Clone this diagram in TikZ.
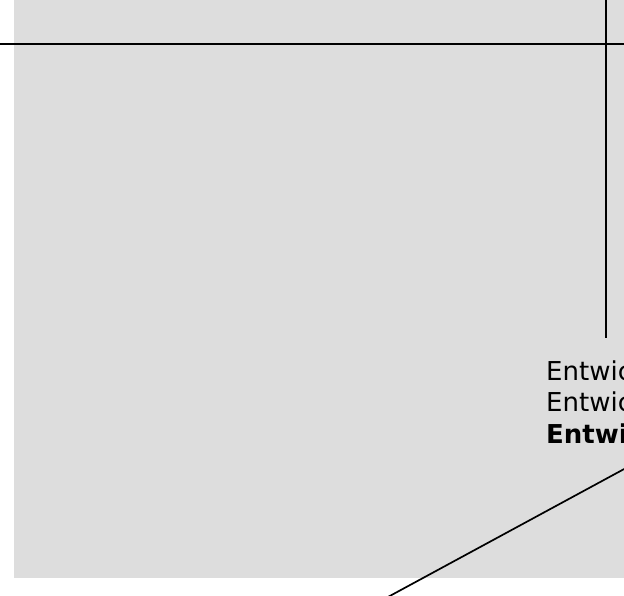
\documentclass[tikz,border=0pt]{standalone}
\usepackage{fontspec}
\setmainfont{DejaVu Sans}
\usepackage{tikz}
\usetikzlibrary{positioning}
\definecolor{panelgray}{RGB}{221,221,221}
\tikzstyle{every node}+=[inner sep=0pt]
\tikzstyle{caption} = [anchor=base west, align=left, font=\fontsize{26}{31.5}\selectfont]
\tikzstyle{line} = [draw, line width=2pt]
\tikzstyle{slant} = [draw, line width=1.7pt]

\begin{document}
\begin{tikzpicture}[x=1pt, y=-1pt]
            \useasboundingbox (0,0) rectangle (624,595);
            \clip (0,0) rectangle (624,595);
            \fill [panelgray] (14,0) rectangle (624,578);
            % Place nodes
            \node [caption] (txt) at (546,443) {Entwic\\Entwic\\\textbf{Entwi}};
            \coordinate (hl) at (0,44);
            \coordinate (hr) at (624,44);
            \coordinate (vt) at (606,0);
            \coordinate (vb) at (606,338);
            \coordinate (dl) at (375,604);
            \coordinate (dr) at (650,455);
            % Draw edges
            \path [line] (hl) -- (hr);
            \path [line] (vt) -- (vb);
            \path [slant] (dl) -- (dr);
\end{tikzpicture}
\end{document}
